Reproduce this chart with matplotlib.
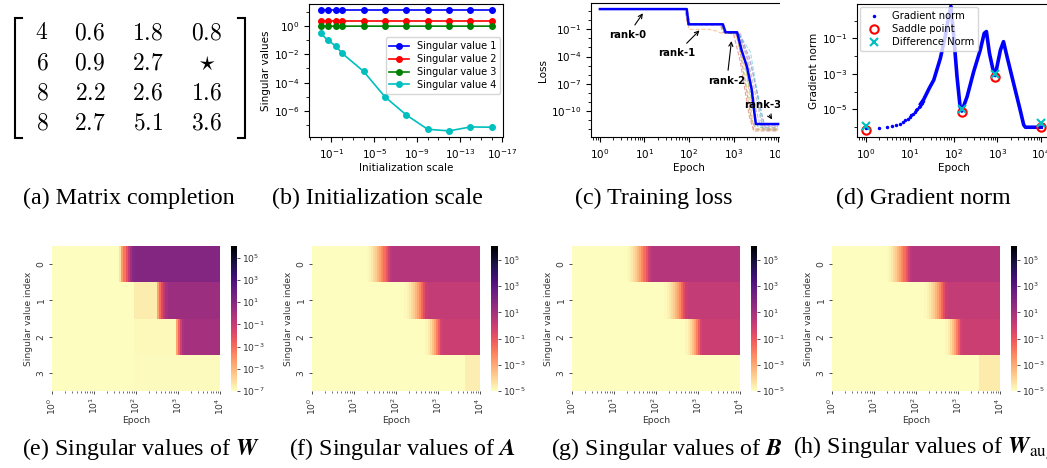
import numpy as np
import matplotlib
matplotlib.use("Agg")
import matplotlib.pyplot as plt
from matplotlib.patches import Rectangle
from matplotlib.colors import Normalize
from matplotlib.cm import ScalarMappable
import matplotlib.ticker as mticker

# ---------------- data ----------------
matrix_entries = [["4", "0.6", "1.8", "0.8"],
                  ["6", "0.9", "2.7", r"\star"],
                  ["8", "2.2", "2.6", "1.6"],
                  ["8", "2.7", "5.1", "3.6"]]

init_scale = [1, 0.23, 0.04, 0.01, 1e-4, 1e-6, 1e-8, 1e-10, 1e-12, 1e-14, 1e-16]
sv1 = [14, 14, 14, 14, 14, 14, 14, 14, 14, 14, 14]
sv2 = [2.4, 2.4, 2.4, 2.4, 2.4, 2.4, 2.4, 2.4, 2.4, 2.4, 2.4]
sv3 = [1.0, 0.97, 0.97, 0.97, 0.97, 0.97, 0.97, 0.97, 0.97, 0.97, 0.97]
sv4 = [0.3, 0.1, 0.039, 0.0117, 6.3e-4, 1.0e-5, 5.2e-7, 5.1e-8, 3.9e-8, 7.4e-8, 7.1e-8]
sv_labels = ["Singular value 1", "Singular value 2", "Singular value 3", "Singular value 4"]

# training loss (log10 epoch, log10 loss)
main_log_epoch = [0, 1.95, 1.99, 2.76, 2.82, 3.08, 3.18, 3.30, 3.41, 3.46, 3.50, 4.0]
main_log_loss = [1.23, 1.23, -0.45, -0.45, -1.33, -1.33, -3.3, -5.1, -7.7, -9.9, -11.44, -11.44]
run_log_epoch = [
    [0, 1.93, 1.98, 2.72, 2.78, 3.12, 3.35, 3.60, 3.72, 4.0],
    [0, 1.90, 2.00, 2.45, 2.62, 2.70, 3.05, 3.30, 3.45, 4.0],
    [0, 1.95, 2.02, 2.75, 2.82, 3.10, 3.25, 3.45, 3.55, 4.0],
    [0, 1.92, 1.97, 2.70, 2.76, 3.00, 3.15, 3.35, 3.45, 4.0],
    [0, 1.95, 2.00, 2.76, 2.82, 3.12, 3.30, 3.50, 3.60, 4.0],
    [0, 1.94, 2.00, 2.74, 2.80, 3.08, 3.20, 3.40, 3.50, 4.0],
    [0, 1.96, 2.02, 2.78, 2.84, 3.15, 3.40, 3.62, 3.70, 4.0],
    [0, 1.95, 2.00, 2.75, 2.80, 3.10, 3.30, 3.55, 3.65, 4.0],
    [0, 1.93, 1.99, 2.73, 2.79, 3.05, 3.22, 3.40, 3.52, 4.0],
    [0, 1.95, 2.00, 2.75, 2.80, 3.10, 3.38, 3.55, 3.65, 4.0],
]
run_log_loss = [
    [1.23, 1.23, -0.45, -0.45, -1.33, -1.40, -4.0, -9.5, -12.1, -12.1],
    [1.23, 1.23, -1.00, -1.00, -1.20, -1.40, -1.45, -6.0, -12.0, -12.0],
    [1.23, 1.23, -0.45, -0.45, -1.30, -1.50, -4.5, -10.0, -11.8, -11.8],
    [1.23, 1.23, -0.45, -0.45, -1.35, -1.50, -4.5, -10.5, -12.2, -12.2],
    [1.23, 1.23, -0.45, -0.45, -1.35, -1.35, -4.2, -9.8, -11.6, -11.6],
    [1.23, 1.23, -0.50, -0.50, -1.40, -1.50, -5.0, -11.0, -12.0, -12.0],
    [1.23, 1.23, -0.42, -0.42, -1.30, -1.35, -5.0, -10.5, -11.7, -11.7],
    [1.23, 1.23, -0.45, -0.45, -1.33, -1.40, -3.8, -9.5, -11.9, -11.9],
    [1.23, 1.23, -0.45, -0.45, -1.33, -1.45, -4.8, -10.8, -12.1, -12.1],
    [1.23, 1.23, -0.45, -0.45, -1.33, -1.40, -3.5, -8.5, -11.5, -11.5],
]

# gradient norm
grad_sparse_epoch = [1, 2, 3, 4, 5, 6, 7, 8, 9, 10, 11, 12, 13, 14, 15, 16, 17, 18, 19, 20]
grad_sparse_log = [-6.05, -6.05, -6.0, -5.95, -5.88, -5.8, -5.72, -5.62, -5.52, -5.42,
                   -5.33, -5.24, -5.15, -5.06, -4.97, -4.88, -4.79, -4.7, -4.62, -4.53]
grad_dense_log_epoch = [1.25, 1.32, 1.45, 1.55, 1.7, 1.81, 1.89, 1.94, 2.0, 2.08, 2.15, 2.19,
                        2.31, 2.46, 2.61, 2.7, 2.75, 2.82, 2.91, 2.95, 3.07, 3.14, 3.22,
                        3.37, 3.52, 3.6, 3.64, 4.0]
grad_dense_log = [-4.7, -4.45, -3.8, -3.35, -2.13, -0.9, 0.22, 0.8, -0.72, -3.16, -4.85, -5.1,
                  -4.29, -2.88, -1.66, -0.72, -0.62, -1.85, -2.88, -3.1, -1.66, -1.19, -2.03,
                  -3.54, -5.04, -5.88, -6.01, -6.01]
saddle_epoch = [1, 158, 890, 10000]
saddle_log = [-6.16, -5.13, -3.2, -5.98]
diff_log = [-5.94, -5.0, -3.0, -5.75]

# heatmaps: per row (edges in log10 epoch, log10 singular value per cell)
heat_W = [
    ([0, 1.60, 1.65, 1.70, 1.75, 1.80, 1.85, 1.90, 1.95, 4.0],
     [-7, -6.2, -4.3, -3.2, -2.2, -1.0, 0.2, 0.9, 1.15]),
    ([0, 1.95, 2.50, 2.55, 2.60, 2.65, 2.70, 2.75, 4.0],
     [-7, -6.5, -4.5, -3.0, -1.8, -0.8, 0.0, 0.3]),
    ([0, 1.95, 2.95, 3.00, 3.05, 3.10, 3.15, 4.0],
     [-7, -6.85, -4.5, -2.8, -1.2, -0.2, 0.05]),
    ([0, 1.95, 4.0], [-7, -6.92]),
]
row0_edges = [0, 1.30, 1.35, 1.40, 1.45, 1.50, 1.55, 1.60, 1.65, 1.70, 1.75, 1.80, 1.85, 1.90, 4.0]
row0_vals = [-5, -4.9, -4.7, -4.45, -4.15, -3.8, -3.35, -2.85, -2.3, -1.65, -0.95, -0.2, 0.4, 0.55]
row1_edges = [0, 2.20, 2.25, 2.30, 2.35, 2.40, 2.45, 2.50, 2.55, 2.60, 2.65, 2.70, 2.75, 4.0]
row1_vals = [-5, -4.9, -4.7, -4.45, -4.15, -3.8, -3.35, -2.85, -2.25, -1.5, -0.7, 0.0, 0.15]
row2_edges = [0, 2.70, 2.75, 2.80, 2.85, 2.90, 2.95, 3.00, 3.05, 3.10, 4.0]
row2_vals = [-5, -4.85, -4.55, -4.15, -3.6, -2.9, -2.1, -1.2, -0.3, 0.0]
heat_A = [(row0_edges, row0_vals), (row1_edges, row1_vals), (row2_edges, row2_vals),
          ([0, 3.64, 4.0], [-5, -4.65])]
heat_B = [(row0_edges, row0_vals), (row1_edges, row1_vals), (row2_edges, row2_vals),
          ([0, 4.0], [-5])]
heat_Waug = [(row0_edges, row0_vals), (row1_edges, row1_vals), (row2_edges, row2_vals),
             ([0, 3.51, 4.0], [-5, -4.55])]

captions_top = ["(a) Matrix completion", "(b) Initialization scale",
                "(c) Training loss", "(d) Gradient norm"]
captions_bottom = [r"(e) Singular values of $\mathbfit{W}$",
                   r"(f) Singular values of $\mathbfit{A}$",
                   r"(g) Singular values of $\mathbfit{B}$",
                   r"(h) Singular values of $\mathbfit{W}_{\mathrm{aug}}$"]

# ---------------- figure ----------------
WPX, HPX = 1047, 468
fig = plt.figure(figsize=(WPX / 100, HPX / 100), dpi=100)
FS = 7.5


def px_axes(x0, y0, x1, y1, **kw):
    return fig.add_axes([x0 / WPX, 1 - y1 / HPX, (x1 - x0) / WPX, (y1 - y0) / HPX], **kw)


# (a) matrix
axa = px_axes(0, 0, 255, 175)
axa.axis("off")
axa.set_xlim(0, 255)
axa.set_ylim(175, 0)
col_x = [42, 90, 148, 207]
row_y = [32, 63, 93, 123]
for i, row in enumerate(matrix_entries):
    for j, v in enumerate(row):
        axa.text(col_x[j], row_y[i], f"${v}$", ha="center", va="center",
                 fontsize=17, math_fontfamily="cm")
axa.plot([22, 15, 15, 22], [18, 18, 138, 138], color="k", lw=1.5, solid_joinstyle="miter")
axa.plot([238, 245, 245, 238], [18, 18, 138, 138], color="k", lw=1.5, solid_joinstyle="miter")

# (b) initialization scale
axb = px_axes(309, 4, 503, 137)
for vals, c, lab in zip([sv1, sv2, sv3, sv4], ["b", "r", "g", "c"], sv_labels):
    axb.plot(init_scale, vals, "-o", color=c, ms=4, lw=1.2, label=lab)
axb.set_xscale("log")
axb.set_yscale("log")
axb.set_xticks([1e-1, 1e-5, 1e-9, 1e-13, 1e-17])
axb.set_yticks([1e0, 1e-2, 1e-4, 1e-6])
axb.xaxis.set_minor_locator(mticker.LogLocator(base=10, subs=(1.0,), numticks=40))
axb.yaxis.set_minor_locator(mticker.LogLocator(base=10, subs=(1.0,), numticks=40))
axb.xaxis.set_minor_formatter(mticker.NullFormatter())
axb.yaxis.set_minor_formatter(mticker.NullFormatter())
axb.set_xlim(10 ** 1.1, 10 ** -17.05)
axb.set_ylim(10 ** -7.84, 10 ** 1.55)
axb.tick_params(labelsize=FS)
axb.set_xlabel("Initialization scale", fontsize=FS, labelpad=2)
axb.set_ylabel("Singular values", fontsize=FS, labelpad=2)
axb.legend(loc="upper right", bbox_to_anchor=(0.985, 0.75), borderaxespad=0,
           fontsize=7, handlelength=2, labelspacing=0.3)

# (c) training loss
axc = px_axes(591, 3, 787, 137)
for k, (xe, yl) in enumerate(zip(run_log_epoch, run_log_loss)):
    axc.plot(10 ** np.array(xe), 10 ** np.array(yl), "--", color=f"C{k}", alpha=0.45, lw=0.8)
axc.plot(10 ** np.array(main_log_epoch), 10 ** np.array(main_log_loss), "-", color="b", lw=1.8)
axc.set_xscale("log")
axc.set_yscale("log")
axc.set_yticks([1e-1, 1e-4, 1e-7, 1e-10])
axc.yaxis.set_minor_locator(mticker.LogLocator(base=10, subs=(1.0,), numticks=40))
axc.yaxis.set_minor_formatter(mticker.NullFormatter())
axc.set_xlim(10 ** -0.2, 10 ** 4.2)
axc.set_ylim(10 ** -12.87, 10 ** 1.9)
axc.tick_params(labelsize=FS)
axc.set_xlabel("Epoch", fontsize=FS, labelpad=2)
axc.set_ylabel("Loss", fontsize=FS, labelpad=2)
ann_kw = dict(fontsize=7.3, fontweight="bold", ha="center", va="center",
              arrowprops=dict(arrowstyle="->", color="k", lw=0.8), annotation_clip=False)
axc.annotate("rank-0", xy=(10 ** 1.0, 10 ** 1.02), xytext=(10 ** 0.63, 10 ** -1.63), **ann_kw)
axc.annotate("rank-1", xy=(10 ** 2.28, 10 ** -0.9), xytext=(10 ** 1.73, 10 ** -3.61), **ann_kw)
axc.annotate("rank-2", xy=(10 ** 2.96, 10 ** -1.99), xytext=(10 ** 2.85, 10 ** -6.67), **ann_kw)
axc.annotate("rank-3", xy=(10 ** 3.9, 10 ** -11.2), xytext=(10 ** 3.66, 10 ** -9.35), **ann_kw)

# white mask cropping the right of panel (c)
fig.patches.append(Rectangle((780 / WPX, 1 - 178 / HPX), 75 / WPX, 178 / HPX,
                             transform=fig.transFigure, facecolor="white",
                             edgecolor="none", zorder=1))

# (d) gradient norm
axd = px_axes(857, 4, 1050, 137)
axd.set_zorder(2)
axd.plot(grad_sparse_epoch, 10 ** np.array(grad_sparse_log), ".", color="b", ms=3,
         label="Gradient norm")
axd.plot(10 ** np.array(grad_dense_log_epoch), 10 ** np.array(grad_dense_log), "-",
         color="b", lw=2.6)
axd.plot(saddle_epoch, 10 ** np.array(saddle_log), "o", mfc="none", mec="r", ms=6, mew=1.5,
         label="Saddle point")
axd.plot(saddle_epoch, 10 ** np.array(diff_log), "x", color="c", ms=6, mew=1.5,
         label="Difference Norm")
axd.set_xscale("log")
axd.set_yscale("log")
axd.set_yticks([1e-1, 1e-3, 1e-5])
axd.yaxis.set_minor_locator(mticker.LogLocator(base=10, subs=(1.0,), numticks=40))
axd.yaxis.set_minor_formatter(mticker.NullFormatter())
axd.set_xlim(10 ** -0.2, 10 ** 4.2)
axd.set_ylim(10 ** -6.56, 10 ** 0.93)
axd.tick_params(labelsize=FS)
axd.set_xlabel("Epoch", fontsize=FS, labelpad=2)
axd.set_ylabel("Gradient norm", fontsize=FS, labelpad=2)
axd.legend(loc="upper left", fontsize=7.2, labelspacing=0.3, borderaxespad=0.3)

# heatmaps
HFS = 6.6
TXT = "0.2"
minor_pos = [d + np.log10(m) for d in range(4) for m in range(2, 10)]


def heatmap(box, cbox, rows, vmin, vmax, cticks):
    ax = px_axes(*box)
    cax = px_axes(*cbox)
    cmap = plt.get_cmap("magma_r")
    norm = Normalize(vmin, vmax)
    for r, (edges, vals) in enumerate(rows):
        ax.pcolormesh(edges, [r - 0.5, r + 0.5], [vals], cmap=cmap, norm=norm,
                      shading="flat", linewidth=0, antialiased=False)
    ax.set_xlim(0, 4)
    ax.set_ylim(3.5, -0.5)
    for s in ax.spines.values():
        s.set_visible(False)
    ax.set_xticks(range(5))
    ax.set_xticklabels([f"$10^{{{k}}}$" for k in range(5)], rotation=90, fontsize=HFS, color=TXT)
    ax.set_xticks(minor_pos, minor=True)
    ax.set_yticks(range(4))
    ax.set_yticklabels([str(k) for k in range(4)], rotation=90, va="center", fontsize=HFS,
                       color=TXT)
    ax.tick_params(which="major", length=2.5, width=0.6, color=TXT, pad=2)
    ax.tick_params(which="minor", length=1.5, width=0.5, color=TXT)
    ax.set_xlabel("Epoch", fontsize=HFS, color=TXT, labelpad=1)
    ax.set_ylabel("Singular value index", fontsize=HFS, color=TXT, labelpad=3)
    cb = fig.colorbar(ScalarMappable(norm=norm, cmap=cmap), cax=cax)
    cb.outline.set_visible(False)
    cb.set_ticks(cticks)
    cb.set_ticklabels([f"$10^{{{k}}}$" for k in cticks])
    cax.tick_params(labelsize=HFS, length=2, width=0.6, color=TXT, labelcolor=TXT, pad=1.5)
    return ax


heatmap((52, 246, 220, 391), (231, 246, 237, 391), heat_W, -7, 6.05, [-7, -5, -3, -1, 1, 3, 5])
heatmap((312, 246, 480, 391), (491, 246, 498, 391), heat_A, -5, 6.06, [-5, -3, -1, 1, 3, 5])
heatmap((572, 246, 740, 391), (751, 246, 757, 391), heat_B, -5, 6.06, [-5, -3, -1, 1, 3, 5])
heatmap((832, 246, 1000, 391), (1011, 246, 1017, 391), heat_Waug, -5, 6.06, [-5, -3, -1, 1, 3, 5])

# captions
cap_kw = dict(fontsize=17.3, family="Liberation Serif", va="center", math_fontfamily="stix")
for txt, xc in zip(captions_top, [129, 377, 654, 923]):
    fig.text(xc / WPX, 1 - 198 / HPX, txt, ha="center", **cap_kw)
for txt, xl in zip(captions_bottom, [22, 289, 551, 793]):
    fig.text(xl / WPX, 1 - 449 / HPX, txt, ha="left", **cap_kw)

fig.savefig("out.png", dpi=100)
